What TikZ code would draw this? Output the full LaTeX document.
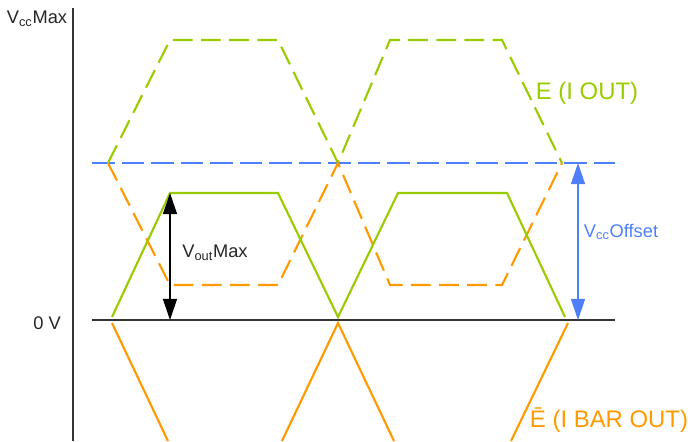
\documentclass[tikz,border=0pt]{standalone}
\usepackage{fontspec}
\setmainfont{Liberation Sans}
\usetikzlibrary{arrows.meta}
\definecolor{eout}{HTML}{99CC00}
\definecolor{ebar}{HTML}{FF9900}
\definecolor{offs}{HTML}{4D7FFF}
\tikzset{axis/.style={draw=black!80, line width=0.8pt},
  wave/.style={line width=1.5pt, line join=miter},
  dashwave/.style={wave, dash pattern=on 14pt off 6pt},
  lbl/.style={font=\fontsize{13}{15}\selectfont, text=black!85, inner sep=1pt},
  biglbl/.style={font=\fontsize{17}{20}\selectfont, inner sep=1pt},
  dimarrow/.style={line width=0.8pt, {Triangle[width=10pt,length=15pt]}-{Triangle[width=10pt,length=15pt]}}}

\begin{document}
\begin{tikzpicture}[x=0.025cm,y=-0.025cm]
  \useasboundingbox (0,0) rectangle (688,441);
  % axes and offset level
  \draw[axis] (73,8) -- (73,441);
  \draw[axis] (92,320) -- (615,320);
  \draw[offs, line width=1.2pt, dash pattern=on 16pt off 5pt] (92,163) -- (615,163);
  % dashed pair (around offset)
  \draw[dashwave, eout] (108,163) -- (170,40) -- (278,40) -- (338,163)
    -- (390,40) -- (502,40) -- (562,163);
  \draw[dashwave, ebar] (108,163) -- (170,285) -- (278,285) -- (338,163)
    -- (390,285) -- (502,285) -- (562,163);
  % solid pair (around 0 V)
  \draw[wave, eout] (112,317) -- (170,193) -- (278,193) -- (338,317)
    -- (398,193) -- (507,193) -- (565,317);
  \draw[wave, ebar] (112,323) -- (168,441);
  \draw[wave, ebar] (282,441) -- (338,323) -- (394,441);
  \draw[wave, ebar] (568,323) -- (511,441);
  % dimensions
  \coordinate (outtop) at (170,193);
  \coordinate (outbot) at (170,320);
  \coordinate (offtop) at (578,163);
  \coordinate (offbot) at (578,320);
  \draw[dimarrow, black] (outtop) -- (outbot);
  \draw[dimarrow, offs] (offtop) -- (offbot);
  % labels
  \node[lbl] (vccmax) at (37,19) {V\textsubscript{cc}Max};
  \node[lbl] (zerov) at (47,323) {0 V};
  \node[lbl] (voutmax) at (215,253) {V\textsubscript{out}Max};
  \node[lbl, text=offs] (vccoffset) at (621,232) {V\textsubscript{cc}Offset};
  \node[biglbl, text=eout] (eiout) at (587,93) {E (I OUT)};
  \node[biglbl, text=ebar] (ebarout) at (609,420) {Ē (I BAR OUT)};
\end{tikzpicture}
\end{document}
